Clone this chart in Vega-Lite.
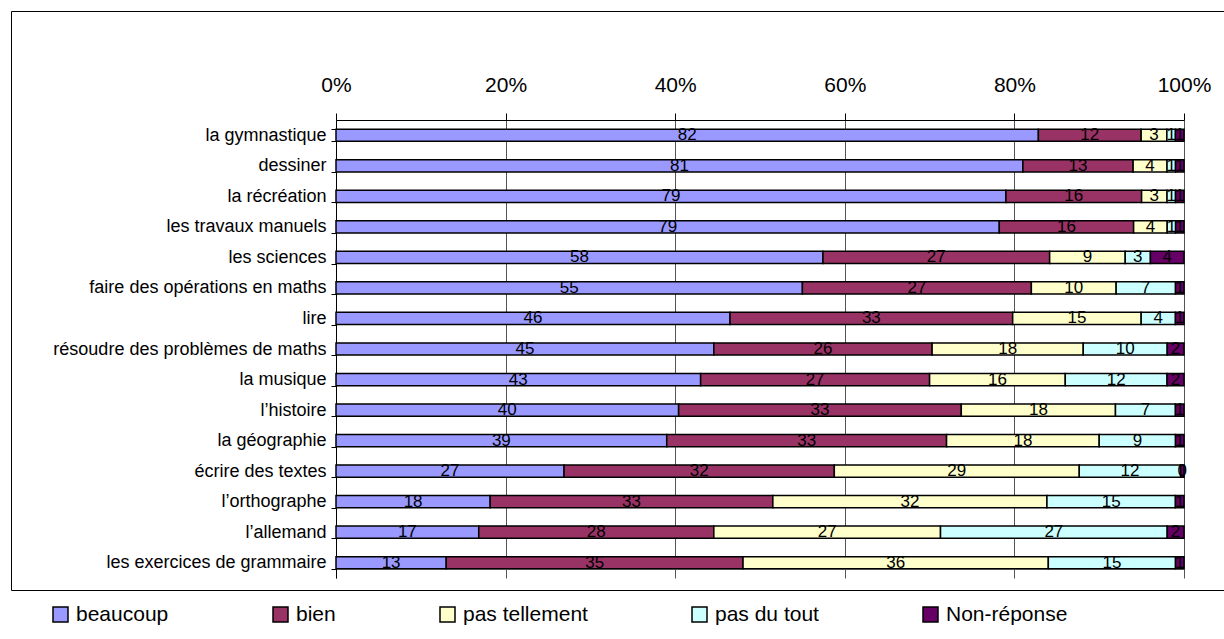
{
  "$schema": "https://vega.github.io/schema/vega-lite/v6.json",
  "padding": {"left": 10, "top": 1, "right": 0, "bottom": 0},
  "background": "white",
  "spacing": 0,
  "config": {
    "font": "Liberation Sans",
    "view": {"stroke": "black", "strokeWidth": 1},
    "axis": {"labelColor": "black", "labelFont": "Liberation Sans"}
  },
  "vconcat": [
    {
      "width": 1225,
      "height": 579,
      "data": {
        "values": [
          {"matiere": "la gymnastique", "beaucoup": 82, "bien": 12, "pas tellement": 3, "pas du tout": 1, "Non-réponse": 1},
          {"matiere": "dessiner", "beaucoup": 81, "bien": 13, "pas tellement": 4, "pas du tout": 1, "Non-réponse": 1},
          {"matiere": "la récréation", "beaucoup": 79, "bien": 16, "pas tellement": 3, "pas du tout": 1, "Non-réponse": 1},
          {"matiere": "les travaux manuels", "beaucoup": 79, "bien": 16, "pas tellement": 4, "pas du tout": 1, "Non-réponse": 1},
          {"matiere": "les sciences", "beaucoup": 58, "bien": 27, "pas tellement": 9, "pas du tout": 3, "Non-réponse": 4},
          {"matiere": "faire des opérations en maths", "beaucoup": 55, "bien": 27, "pas tellement": 10, "pas du tout": 7, "Non-réponse": 1},
          {"matiere": "lire", "beaucoup": 46, "bien": 33, "pas tellement": 15, "pas du tout": 4, "Non-réponse": 1},
          {"matiere": "résoudre des problèmes de maths", "beaucoup": 45, "bien": 26, "pas tellement": 18, "pas du tout": 10, "Non-réponse": 2},
          {"matiere": "la musique", "beaucoup": 43, "bien": 27, "pas tellement": 16, "pas du tout": 12, "Non-réponse": 2},
          {"matiere": "l’histoire", "beaucoup": 40, "bien": 33, "pas tellement": 18, "pas du tout": 7, "Non-réponse": 1},
          {"matiere": "la géographie", "beaucoup": 39, "bien": 33, "pas tellement": 18, "pas du tout": 9, "Non-réponse": 1},
          {"matiere": "écrire des textes", "beaucoup": 27, "bien": 32, "pas tellement": 29, "pas du tout": 12, "Non-réponse": 0.4},
          {"matiere": "l’orthographe", "beaucoup": 18, "bien": 33, "pas tellement": 32, "pas du tout": 15, "Non-réponse": 1},
          {"matiere": "l’allemand", "beaucoup": 17, "bien": 28, "pas tellement": 27, "pas du tout": 27, "Non-réponse": 2},
          {"matiere": "les exercices de grammaire", "beaucoup": 13, "bien": 35, "pas tellement": 36, "pas du tout": 15, "Non-réponse": 1}
        ]
      },
      "transform": [
        {"fold": ["beaucoup", "bien", "pas tellement", "pas du tout", "Non-réponse"], "as": ["reponse", "pct"]},
        {"calculate": "indexof(['beaucoup', 'bien', 'pas tellement', 'pas du tout', 'Non-réponse'], datum.reponse)", "as": "ordre"},
        {"stack": "pct", "groupby": ["matiere"], "sort": [{"field": "ordre"}], "offset": "normalize", "as": ["x0", "x1"]},
        {"calculate": "(datum.x0 + datum.x1) / 2", "as": "milieu"}
      ],
      "encoding": {
        "y": {
          "field": "matiere",
          "type": "nominal",
          "sort": null,
          "title": null,
          "scale": {"range": [109, 567], "paddingInner": 0.6, "paddingOuter": 0.3},
          "axis": {
            "orient": "left",
            "offset": -325,
            "domainColor": "black",
            "tickColor": "black",
            "tickSize": 5,
            "tickBand": "extent",
            "labelFontSize": 18,
            "labelPadding": 5,
            "labelLimit": 320,
            "grid": true,
            "gridColor": "#999999",
            "gridOpacity": {"condition": {"test": "datum.value === 'les exercices de grammaire'", "value": 1}, "value": 0}
          }
        }
      },
      "layer": [
        {
          "mark": {"type": "bar", "stroke": "black", "strokeWidth": 1.5},
          "encoding": {
            "x": {
              "field": "x0",
              "type": "quantitative",
              "title": null,
              "scale": {"domain": [0, 1], "range": [325, 1173], "nice": false, "zero": false},
              "axis": {
                "orient": "top",
                "offset": -109,
                "values": [0, 0.2, 0.4, 0.6, 0.8, 1],
                "format": ".0%",
                "labelFontSize": 21,
                "labelPadding": 18,
                "labelFlush": false,
                "tickSize": 7,
                "tickColor": "black",
                "domainColor": "black",
                "grid": true,
                "gridColor": "#555555"
              }
            },
            "x2": {"field": "x1"},
            "color": {
              "field": "reponse",
              "type": "nominal",
              "scale": {
                "domain": ["beaucoup", "bien", "pas tellement", "pas du tout", "Non-réponse"],
                "range": ["#9999FF", "#993366", "#FFFFCC", "#CCFFFF", "#660066"]
              },
              "legend": {
                "orient": "none",
                "legendX": 39,
                "legendY": 593,
                "direction": "horizontal",
                "columns": 5,
                "columnPadding": 101,
                "padding": 0,
                "title": null,
                "symbolType": "square",
                "symbolSize": 225,
                "symbolStrokeColor": "black",
                "symbolStrokeWidth": 1.5,
                "symbolFillOpacity": 1,
                "labelFontSize": 21,
                "labelColor": "black",
                "labelOffset": 5,
                "labelLimit": 300
              }
            }
          }
        },
        {
          "mark": {"type": "text", "fontSize": 17, "color": "black", "baseline": "middle"},
          "encoding": {
            "x": {
              "field": "milieu",
              "type": "quantitative",
              "title": null,
              "axis": {
                "orient": "top",
                "offset": -109,
                "values": [0, 0.2, 0.4, 0.6, 0.8, 1],
                "format": ".0%",
                "labelFontSize": 21,
                "labelPadding": 18,
                "labelFlush": false,
                "tickSize": 7,
                "tickColor": "black",
                "domainColor": "black",
                "grid": true,
                "gridColor": "#555555"
              }
            },
            "text": {"field": "pct", "type": "quantitative", "format": ".0f"}
          }
        }
      ]
    },
    {
      "width": 1225,
      "height": 60,
      "data": {"values": []},
      "mark": "text"
    }
  ]
}
